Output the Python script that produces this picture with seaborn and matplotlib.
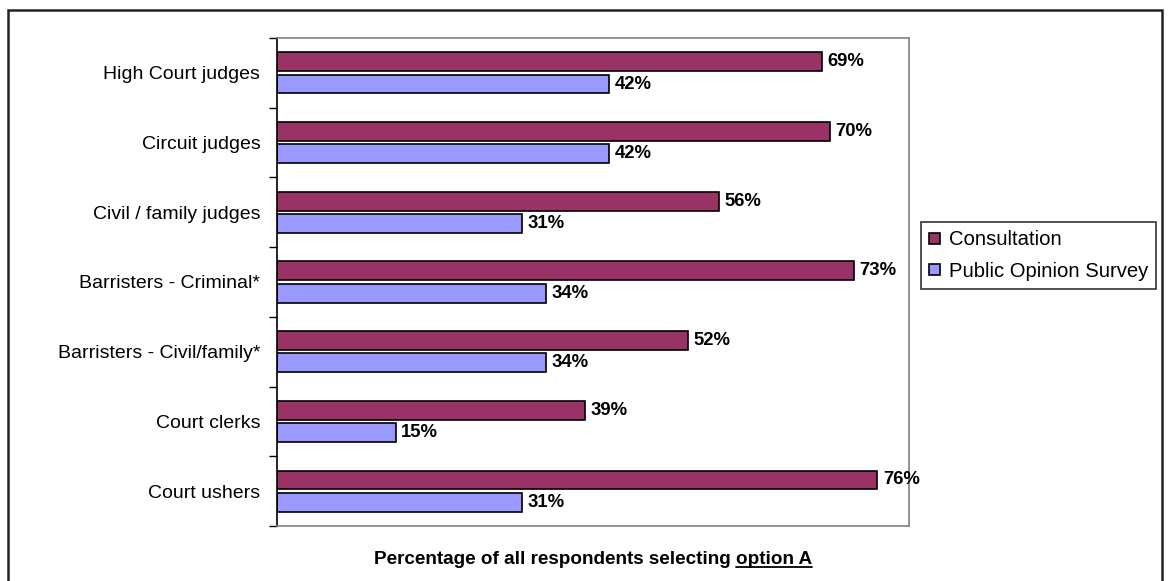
import pandas as pd
import matplotlib.pyplot as plt
import matplotlib.patches as mpatches
from matplotlib.lines import Line2D
import seaborn as sns

sns.set_theme(style="white")
plt.rcParams['font.family'] = ['Liberation Sans', 'DejaVu Sans']
plt.rcParams['text.color'] = 'black'
plt.rcParams['axes.labelcolor'] = 'black'

categories = ["High Court judges", "Circuit judges", "Civil / family judges",
              "Barristers - Criminal*", "Barristers - Civil/family*",
              "Court clerks", "Court ushers"]
consultation = [69, 70, 56, 73, 52, 39, 76]
survey = [42, 42, 31, 34, 34, 15, 31]
series = ["Consultation", "Public Opinion Survey"]
colors = ["#993366", "#9999FF"]

df = pd.DataFrame({
    "category": categories * 2,
    "value": consultation + survey,
    "series": [series[0]] * len(categories) + [series[1]] * len(categories),
})

fs = 14
fig = plt.figure(figsize=(11.7, 5.81), dpi=100)
ax = fig.add_axes([277 / 1170, 1 - 526 / 581, (909 - 277) / 1170, (526 - 38) / 581])

sns.barplot(data=df, x="value", y="category", hue="series", order=categories,
            hue_order=series, palette=colors, saturation=1, orient="h", width=0.64,
            gap=0.15, edgecolor="black", linewidth=1.2, legend=False, ax=ax)

for cont in ax.containers:
    ax.bar_label(cont, fmt="%d%%", padding=4, fontsize=fs * 0.95, fontweight="bold",
                 color="black")

ax.set_xlim(0, 80)
ax.set_ylim(len(categories) - 0.5, -0.5)
ax.set_xticks([])
ax.set_ylabel("")
ax.tick_params(axis="y", which="major", length=0, pad=12, labelsize=fs, labelcolor="black")
ax.set_yticks([i + 0.5 for i in range(-1, len(categories))], minor=True)
ax.tick_params(axis="y", which="minor", length=6, width=1, color="black", left=True)

for side in ["top", "right", "bottom"]:
    ax.spines[side].set_color("#808080")
    ax.spines[side].set_linewidth(1.2)
ax.spines["left"].set_color("black")
ax.spines["left"].set_linewidth(1.2)

ax.set_xlabel("Percentage of all respondents selecting option A", fontsize=fs * 0.97,
              fontweight="bold", labelpad=18)

handles = [mpatches.Patch(facecolor=c, edgecolor="black", linewidth=1.2) for c in colors]
leg = fig.legend(handles, series, loc="upper left", bbox_to_anchor=(921 / 1170, 1 - 222 / 581),
                 fontsize=fs * 1.04, frameon=True, fancybox=False, handlelength=0.5,
                 handleheight=0.5, handletextpad=0.45, borderpad=0.42, labelspacing=0.6,
                 borderaxespad=0)
leg.get_frame().set_edgecolor("black")
leg.get_frame().set_linewidth(1.2)

# outer chart border
fig.add_artist(mpatches.Rectangle((8 / 1170, -0.05), (1162 - 8) / 1170, 1.05 - 10 / 581,
                                  transform=fig.transFigure, fill=False,
                                  edgecolor="#222222", linewidth=1.8))

# underline "option A"
fig.canvas.draw()
r = fig.canvas.get_renderer()
lab = ax.xaxis.label
bb = lab.get_window_extent(r)
tmp = fig.text(0, 0, "option A", fontsize=fs * 0.97, fontweight="bold")
w = tmp.get_window_extent(r).width
tmp.remove()
y = (bb.y0 + 1) / fig.bbox.height
fig.add_artist(Line2D([(bb.x1 - w) / fig.bbox.width, bb.x1 / fig.bbox.width], [y, y],
                      transform=fig.transFigure, color="black", linewidth=1.3))

fig.savefig("out.png", dpi=100)
